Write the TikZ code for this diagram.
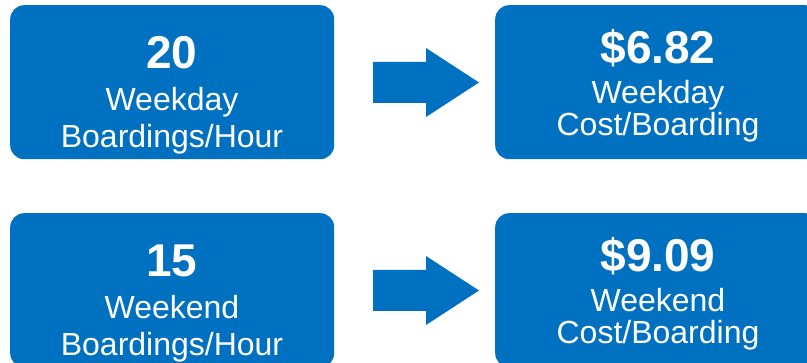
\documentclass[tikz,border=0pt]{standalone}
\usepackage{fontspec}
\setmainfont{Liberation Sans}
\definecolor{tileblue}{HTML}{0070C0}
\begin{document}
\begin{tikzpicture}[x=1pt,y=-1pt,
  tile/.style={fill=tileblue, rounded corners=14pt, inner sep=0pt,
    minimum width=324pt, minimum height=154pt, anchor=north west},
  bignum/.style={text=white, font=\fontsize{46}{46}\selectfont\bfseries,
    anchor=base, inner sep=0pt},
  caption/.style={text=white, font=\fontsize{32}{32}\selectfont,
    anchor=base, inner sep=0pt},
  blockarrow/.style={fill=tileblue}]
\useasboundingbox (0,0) rectangle (807,363);
\clip (0,0) rectangle (807,363);

% weekday row
\node[tile] (wdrate) at (10,5) {};
\node[tile] (wdcost) at (495,5) {};
\node[bignum]  (wdnum)  at (172,69)  {20};
\node[caption] (wdday)  at (172,111) {Weekday};
\node[caption] (wdunit) at (172,148) {Boardings/Hour};
\node[bignum]  (wdval)  at (658,64)  {\$6.82};
\node[caption] (wdday2) at (658,104) {Weekday};
\node[caption] (wdunit2) at (658,136) {Cost/Boarding};
\fill[blockarrow] (373,62) -- (426,62) -- (426,48) -- (479,82.5)
  -- (426,117) -- (426,103) -- (373,103) -- cycle;

% weekend row
\node[tile] (werate) at (10,213) {};
\node[tile] (wecost) at (495,213) {};
\node[bignum]  (wenum)  at (172,277) {15};
\node[caption] (weday)  at (172,319) {Weekend};
\node[caption] (weunit) at (172,356) {Boardings/Hour};
\node[bignum]  (weval)  at (658,272) {\$9.09};
\node[caption] (weday2) at (658,312) {Weekend};
\node[caption] (weunit2) at (658,344) {Cost/Boarding};
\fill[blockarrow] (373,270) -- (426,270) -- (426,256) -- (479,290.5)
  -- (426,325) -- (426,311) -- (373,311) -- cycle;
\end{tikzpicture}
\end{document}
